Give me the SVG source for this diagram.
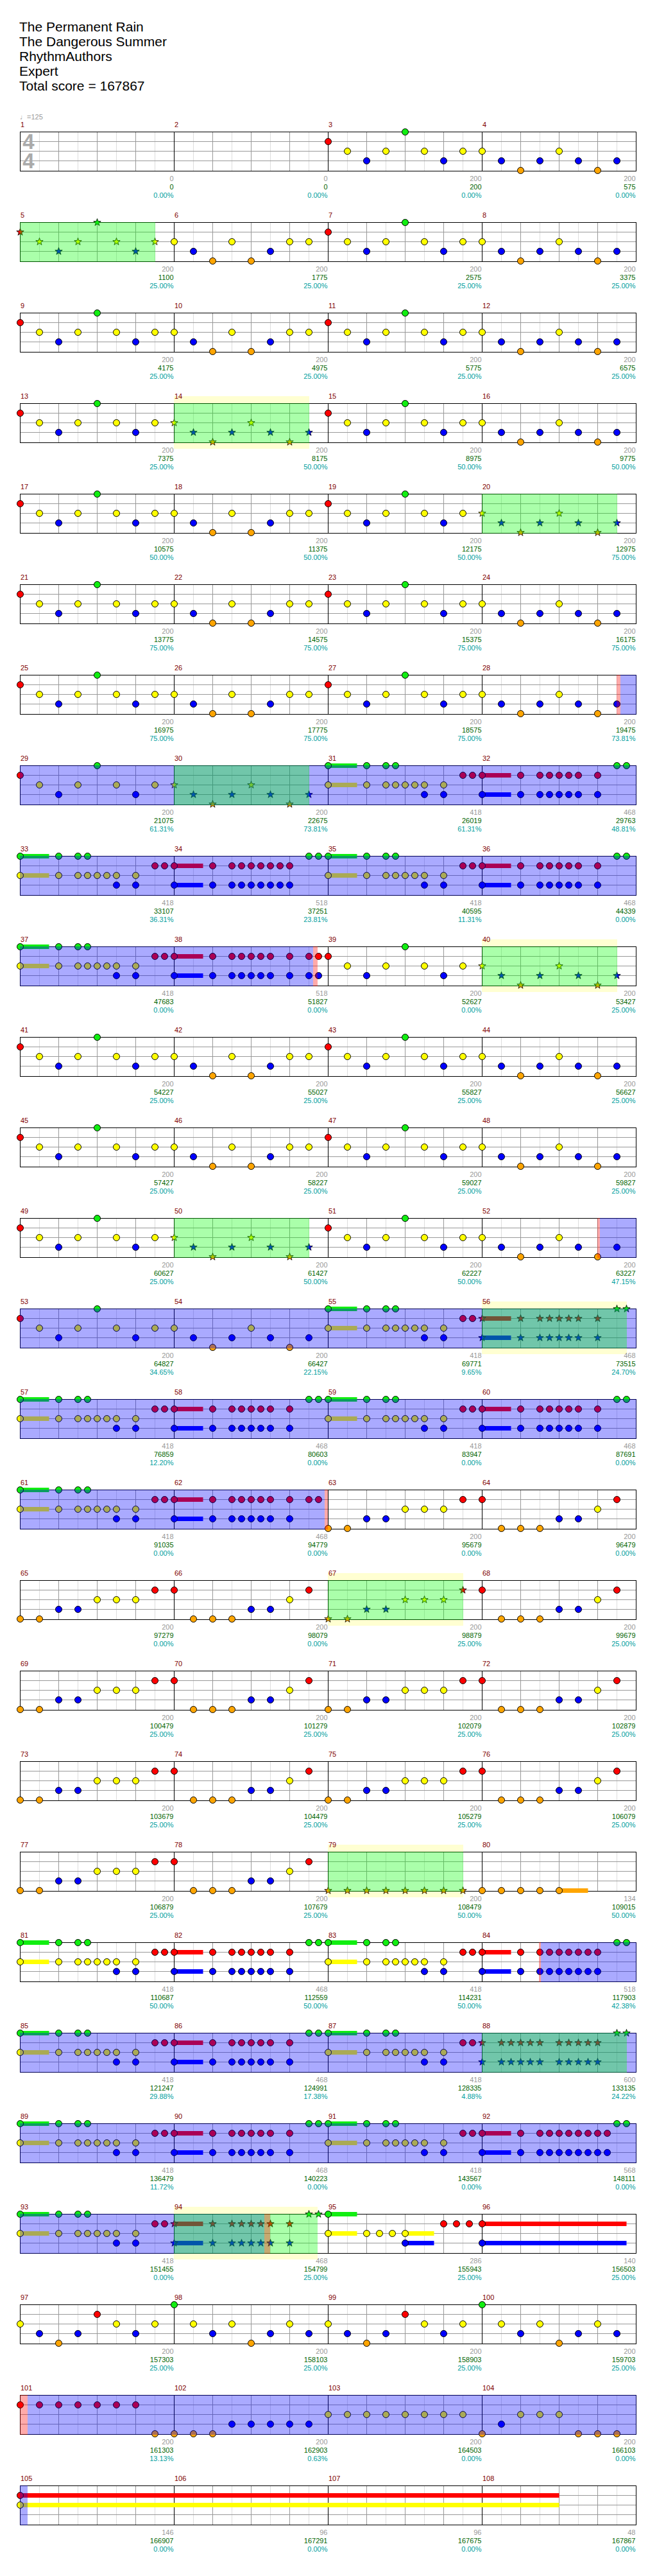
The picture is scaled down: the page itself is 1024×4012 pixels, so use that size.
<svg xmlns="http://www.w3.org/2000/svg" width="1024" height="4012" viewBox="0 0 1024 4012">
<style>
.t{font-family:"Liberation Sans",Arial,sans-serif;font-size:21px;fill:#000}
.sm{font-family:"Liberation Sans",Arial,"DejaVu Sans",sans-serif;font-size:11px}
.n{fill:#800000}
.a,.b,.c{text-anchor:end}
.a{fill:#999}
.b{fill:#006400}
.c{fill:#00a0a0}
.ob{fill:#00f;fill-opacity:.333}
.og{fill:#0f0;fill-opacity:.333}
.or{fill:#f00;fill-opacity:.333}
.hl{fill:#ffffd2}
</style>
<defs>
<circle id="G" r="5" fill="#1e1" stroke="#000"/>
<circle id="R" r="5" fill="#f00" stroke="#000"/>
<circle id="Y" r="5" fill="#ff0" stroke="#000"/>
<circle id="B" r="5" fill="#00f" stroke="#000"/>
<circle id="O" r="5" fill="#ffa500" stroke="#000"/>
<path id="star" d="M0-6L1.41-1.94L5.71-1.85L2.28 0.74L3.53 4.85L0 2.4L-3.53 4.85L-2.28 0.74L-5.71-1.85L-1.41-1.94Z" stroke="#000" stroke-width="0.8"/>
<use id="sG" href="#star" fill="#1e1"/>
<use id="sR" href="#star" fill="#f00"/>
<use id="sY" href="#star" fill="#ff0"/>
<use id="sB" href="#star" fill="#00f"/>
<use id="sO" href="#star" fill="#ffa500"/>
<g id="staff">
<rect x="31" y="0" width="961" height="62" fill="#fff"/>
<path d="M61.5 1V61M121.5 1V61M181.5 1V61M241.5 1V61M301.5 1V61M361.5 1V61M421.5 1V61M481.5 1V61M541.5 1V61M601.5 1V61M661.5 1V61M721.5 1V61M781.5 1V61M841.5 1V61M901.5 1V61M961.5 1V61" stroke="#ddd" fill="none"/>
<path d="M91.5 1V61M151.5 1V61M211.5 1V61M331.5 1V61M391.5 1V61M451.5 1V61M571.5 1V61M631.5 1V61M691.5 1V61M811.5 1V61M871.5 1V61M931.5 1V61M31.5 15.5H991.5M31.5 30.5H991.5M31.5 45.5H991.5" stroke="#999" fill="none"/>
<path d="M271.5 0.5V61.5M511.5 0.5V61.5M751.5 0.5V61.5" stroke="#000" fill="none"/>
<rect x="31.5" y="0.5" width="960" height="61" fill="none" stroke="#000"/>
</g>
<g id="P1"><use href="#R" y="15"/><use href="#Y" x="30" y="30"/><use href="#B" x="60" y="45"/><use href="#Y" x="90" y="30"/><use href="#G" x="120"/><use href="#Y" x="150" y="30"/><use href="#B" x="180" y="45"/><use href="#Y" x="210" y="30"/></g>
<g id="P1s"><use href="#sR" y="15"/><use href="#sY" x="30" y="30"/><use href="#sB" x="60" y="45"/><use href="#sY" x="90" y="30"/><use href="#sG" x="120"/><use href="#sY" x="150" y="30"/><use href="#sB" x="180" y="45"/><use href="#sY" x="210" y="30"/></g>
<g id="P2"><use href="#Y" y="30"/><use href="#B" x="30" y="45"/><use href="#O" x="60" y="60"/><use href="#B" x="90" y="45"/><use href="#Y" x="120" y="30"/><use href="#B" x="150" y="45"/><use href="#O" x="180" y="60"/><use href="#B" x="210" y="45"/></g>
<g id="P2s"><use href="#sY" y="30"/><use href="#sB" x="30" y="45"/><use href="#sO" x="60" y="60"/><use href="#sB" x="90" y="45"/><use href="#sY" x="120" y="30"/><use href="#sB" x="150" y="45"/><use href="#sO" x="180" y="60"/><use href="#sB" x="210" y="45"/></g>
<g id="P3"><use href="#Y" y="30"/><use href="#B" x="30" y="45"/><use href="#O" x="60" y="60"/><use href="#Y" x="90" y="30"/><use href="#O" x="120" y="60"/><use href="#B" x="150" y="45"/><use href="#Y" x="180" y="30"/><use href="#Y" x="210" y="30"/></g>
<g id="P4"><use href="#O" y="60"/><use href="#O" x="30" y="60"/><use href="#B" x="60" y="45"/><use href="#B" x="90" y="45"/><use href="#Y" x="120" y="30"/><use href="#Y" x="150" y="30"/><use href="#Y" x="180" y="30"/><use href="#R" x="210" y="15"/></g>
<g id="P4s"><use href="#sO" y="60"/><use href="#sO" x="30" y="60"/><use href="#sB" x="60" y="45"/><use href="#sB" x="90" y="45"/><use href="#sY" x="120" y="30"/><use href="#sY" x="150" y="30"/><use href="#sY" x="180" y="30"/><use href="#sR" x="210" y="15"/></g>
<g id="P5"><use href="#R" y="15"/><use href="#O" x="30" y="60"/><use href="#O" x="60" y="60"/><use href="#O" x="90" y="60"/><use href="#B" x="120" y="45"/><use href="#B" x="150" y="45"/><use href="#Y" x="180" y="30"/><use href="#R" x="210" y="15"/></g>
<g id="FA"><rect y="-3.5" width="45" height="7" fill="#1e1"/><rect y="26.5" width="45" height="7" fill="#ff0"/><use href="#G"/><use href="#G" x="60"/><use href="#G" x="90"/><use href="#G" x="105"/><use href="#Y" y="30"/><use href="#Y" x="60" y="30"/><use href="#Y" x="90" y="30"/><use href="#Y" x="105" y="30"/><use href="#Y" x="120" y="30"/><use href="#Y" x="135" y="30"/><use href="#Y" x="150" y="30"/><use href="#Y" x="180" y="30"/><use href="#B" x="150" y="45"/><use href="#B" x="180" y="45"/><use href="#R" x="210" y="15"/><use href="#R" x="225" y="15"/></g>
<g id="rb"><use href="#R" y="15"/><use href="#B" y="45"/></g>
<g id="srb"><use href="#sR" y="15"/><use href="#sB" y="45"/></g>
<g id="rbBars"><rect y="11.5" width="45" height="7" fill="#f00"/><rect y="41.5" width="45" height="7" fill="#00f"/></g>
<g id="fbC"><use href="#rb" x="60"/><use href="#rb" x="90"/><use href="#rb" x="105"/><use href="#rb" x="120"/><use href="#rb" x="135"/><use href="#rb" x="150"/><use href="#rb" x="180"/></g>
<g id="FB"><use href="#rbBars"/><use href="#rb"/><use href="#fbC"/><use href="#G" x="210"/><use href="#G" x="225"/></g>
<g id="FB11"><use href="#FB"/><use href="#rb" x="165"/></g>
<g id="FB13"><use href="#FB11"/><use href="#rb" x="195"/></g>
<g id="FB38"><use href="#rbBars"/><use href="#rb"/><use href="#fbC"/><use href="#rb" x="210"/><use href="#rb" x="225"/></g>
<g id="FB62"><use href="#rbBars"/><use href="#rb"/><use href="#fbC"/><use href="#R" x="210" y="15"/><use href="#R" x="225" y="15"/></g>
<g id="FBs"><use href="#rbBars"/><use href="#srb"/><use href="#srb" x="60"/><use href="#srb" x="90"/><use href="#srb" x="105"/><use href="#srb" x="120"/><use href="#srb" x="135"/><use href="#srb" x="150"/><use href="#srb" x="180"/><use href="#sG" x="210"/><use href="#sG" x="225"/></g>
<g id="F88s"><use href="#srb"/><use href="#srb" x="30"/><use href="#srb" x="45"/><use href="#srb" x="60"/><use href="#srb" x="75"/><use href="#srb" x="90"/><use href="#srb" x="120"/><use href="#srb" x="135"/><use href="#srb" x="150"/><use href="#srb" x="165"/><use href="#srb" x="180"/><use href="#sG" x="210"/><use href="#sG" x="225"/></g>
<g id="Os"><use href="#sO" y="60"/><use href="#sO" x="30" y="60"/><use href="#sO" x="60" y="60"/><use href="#sO" x="90" y="60"/><use href="#sO" x="120" y="60"/><use href="#sO" x="150" y="60"/><use href="#sO" x="180" y="60"/><use href="#sO" x="210" y="60"/></g>
<g id="O80"><rect x="120" y="56.5" width="45" height="7" fill="#ffa500"/><use href="#O" y="60"/><use href="#O" x="30" y="60"/><use href="#O" x="60" y="60"/><use href="#O" x="90" y="60"/><use href="#O" x="120" y="60"/></g>
<g id="M95"><rect y="-3.5" width="45" height="7" fill="#1e1"/><rect y="26.5" width="45" height="7" fill="#ff0"/><rect x="120" y="26.5" width="45" height="7" fill="#ff0"/><rect x="120" y="41.5" width="45" height="7" fill="#00f"/><use href="#G"/><use href="#Y" y="30"/><use href="#Y" x="60" y="30"/><use href="#Y" x="80" y="30"/><use href="#Y" x="100" y="30"/><use href="#Y" x="120" y="30"/><use href="#B" x="120" y="45"/><use href="#R" x="180" y="15"/><use href="#R" x="200" y="15"/><use href="#R" x="220" y="15"/></g>
<g id="M96"><rect y="11.5" width="225" height="7" fill="#f00"/><rect y="41.5" width="225" height="7" fill="#00f"/><use href="#rb"/></g>
<g id="M97"><use href="#Y" y="30"/><use href="#B" x="30" y="45"/><use href="#O" x="60" y="60"/><use href="#B" x="90" y="45"/><use href="#R" x="120" y="15"/><use href="#Y" x="150" y="30"/><use href="#B" x="180" y="45"/><use href="#Y" x="210" y="30"/></g>
<g id="M98"><use href="#G"/><use href="#Y" x="30" y="30"/><use href="#B" x="60" y="45"/><use href="#Y" x="90" y="30"/><use href="#O" x="120" y="60"/><use href="#B" x="150" y="45"/><use href="#Y" x="180" y="30"/><use href="#B" x="210" y="45"/></g>
<g id="M101"><use href="#R" y="15"/><use href="#R" x="30" y="15"/><use href="#R" x="60" y="15"/><use href="#R" x="90" y="15"/><use href="#R" x="120" y="15"/><use href="#R" x="150" y="15"/><use href="#R" x="180" y="15"/><use href="#O" x="210" y="60"/></g>
<g id="M102"><use href="#O" y="60"/><use href="#O" x="30" y="60"/><use href="#O" x="60" y="60"/><use href="#B" x="90" y="45"/><use href="#B" x="120" y="45"/><use href="#B" x="150" y="45"/><use href="#B" x="180" y="45"/><use href="#B" x="210" y="45"/></g>
<g id="M103"><use href="#Y" y="30"/><use href="#Y" x="30" y="30"/><use href="#Y" x="60" y="30"/><use href="#Y" x="90" y="30"/><use href="#Y" x="120" y="30"/><use href="#Y" x="150" y="30"/><use href="#Y" x="180" y="30"/><use href="#Y" x="210" y="30"/></g>
<g id="M104"><use href="#O" y="60"/><use href="#B" x="30" y="45"/><use href="#Y" x="60" y="30"/><use href="#Y" x="90" y="30"/><use href="#Y" x="120" y="30"/><use href="#O" x="150" y="60"/><use href="#O" x="180" y="60"/><use href="#O" x="210" y="60"/></g>
<g id="M105"><rect y="11.5" width="840" height="7" fill="#f00"/><rect y="26.5" width="840" height="7" fill="#ff0"/><use href="#R" y="15"/><use href="#Y" y="30"/></g>
</defs>
<rect width="1024" height="4012" fill="#fff"/>
<g id="title" class="t"><text x="30" y="49">The Permanent Rain</text><text x="30" y="72">The Dangerous Summer</text><text x="30" y="95">RhythmAuthors</text><text x="30" y="118">Expert</text><text x="30" y="141">Total score = 167867</text></g>

<g id="row-1" transform="translate(0,205)">
<use href="#staff"/>
<text x="44.5" y="27" text-anchor="middle" font-family="Liberation Sans, Arial, sans-serif" font-weight="bold" font-size="33" fill="#aaa">4</text>
<text x="44.5" y="57" text-anchor="middle" font-family="Liberation Sans, Arial, sans-serif" font-weight="bold" font-size="33" fill="#aaa">4</text>
<use href="#P1" x="511.5" y="0.5"/><use href="#P2" x="751.5" y="0.5"/>
<g class="sm"><text x="31" y="-19" fill="#999">♩=125</text><text class="n" x="32" y="-7">1</text><text class="n" x="272" y="-7">2</text><text class="n" x="512" y="-7">3</text><text class="n" x="752" y="-7">4</text>
<text class="a" x="270.5" y="77">0</text><text class="b" x="270.5" y="90">0</text><text class="c" x="270.5" y="103">0.00%</text>
<text class="a" x="510.5" y="77">0</text><text class="b" x="510.5" y="90">0</text><text class="c" x="510.5" y="103">0.00%</text>
<text class="a" x="750.5" y="77">200</text><text class="b" x="750.5" y="90">200</text><text class="c" x="750.5" y="103">0.00%</text>
<text class="a" x="990.5" y="77">200</text><text class="b" x="990.5" y="90">575</text><text class="c" x="990.5" y="103">0.00%</text></g>
</g>

<g id="row-2" transform="translate(0,346)">
<use href="#staff"/>
<use href="#P1s" x="31.5" y="0.5"/><use href="#P3" x="271.5" y="0.5"/><use href="#P1" x="511.5" y="0.5"/><use href="#P2" x="751.5" y="0.5"/>
<rect class="og" x="31" y="0" width="211" height="62"/>
<g class="sm"><text class="n" x="32" y="-7">5</text><text class="n" x="272" y="-7">6</text><text class="n" x="512" y="-7">7</text><text class="n" x="752" y="-7">8</text>
<text class="a" x="270.5" y="77">200</text><text class="b" x="270.5" y="90">1100</text><text class="c" x="270.5" y="103">25.00%</text>
<text class="a" x="510.5" y="77">200</text><text class="b" x="510.5" y="90">1775</text><text class="c" x="510.5" y="103">25.00%</text>
<text class="a" x="750.5" y="77">200</text><text class="b" x="750.5" y="90">2575</text><text class="c" x="750.5" y="103">25.00%</text>
<text class="a" x="990.5" y="77">200</text><text class="b" x="990.5" y="90">3375</text><text class="c" x="990.5" y="103">25.00%</text></g>
</g>

<g id="row-3" transform="translate(0,487)">
<use href="#staff"/>
<use href="#P1" x="31.5" y="0.5"/><use href="#P3" x="271.5" y="0.5"/><use href="#P1" x="511.5" y="0.5"/><use href="#P2" x="751.5" y="0.5"/>
<g class="sm"><text class="n" x="32" y="-7">9</text><text class="n" x="272" y="-7">10</text><text class="n" x="512" y="-7">11</text><text class="n" x="752" y="-7">12</text>
<text class="a" x="270.5" y="77">200</text><text class="b" x="270.5" y="90">4175</text><text class="c" x="270.5" y="103">25.00%</text>
<text class="a" x="510.5" y="77">200</text><text class="b" x="510.5" y="90">4975</text><text class="c" x="510.5" y="103">25.00%</text>
<text class="a" x="750.5" y="77">200</text><text class="b" x="750.5" y="90">5775</text><text class="c" x="750.5" y="103">25.00%</text>
<text class="a" x="990.5" y="77">200</text><text class="b" x="990.5" y="90">6575</text><text class="c" x="990.5" y="103">25.00%</text></g>
</g>

<g id="row-4" transform="translate(0,628)">
<rect class="hl" x="271" y="-11" width="211" height="82"/>
<use href="#staff"/>
<use href="#P1" x="31.5" y="0.5"/><use href="#P2s" x="271.5" y="0.5"/><use href="#P1" x="511.5" y="0.5"/><use href="#P2" x="751.5" y="0.5"/>
<rect class="og" x="271" y="0" width="211" height="62"/>
<g class="sm"><text class="n" x="32" y="-7">13</text><text class="n" x="272" y="-7">14</text><text class="n" x="512" y="-7">15</text><text class="n" x="752" y="-7">16</text>
<text class="a" x="270.5" y="77">200</text><text class="b" x="270.5" y="90">7375</text><text class="c" x="270.5" y="103">25.00%</text>
<text class="a" x="510.5" y="77">200</text><text class="b" x="510.5" y="90">8175</text><text class="c" x="510.5" y="103">50.00%</text>
<text class="a" x="750.5" y="77">200</text><text class="b" x="750.5" y="90">8975</text><text class="c" x="750.5" y="103">50.00%</text>
<text class="a" x="990.5" y="77">200</text><text class="b" x="990.5" y="90">9775</text><text class="c" x="990.5" y="103">50.00%</text></g>
</g>

<g id="row-5" transform="translate(0,769)">
<use href="#staff"/>
<use href="#P1" x="31.5" y="0.5"/><use href="#P3" x="271.5" y="0.5"/><use href="#P1" x="511.5" y="0.5"/><use href="#P2s" x="751.5" y="0.5"/>
<rect class="og" x="751" y="0" width="211" height="62"/>
<g class="sm"><text class="n" x="32" y="-7">17</text><text class="n" x="272" y="-7">18</text><text class="n" x="512" y="-7">19</text><text class="n" x="752" y="-7">20</text>
<text class="a" x="270.5" y="77">200</text><text class="b" x="270.5" y="90">10575</text><text class="c" x="270.5" y="103">50.00%</text>
<text class="a" x="510.5" y="77">200</text><text class="b" x="510.5" y="90">11375</text><text class="c" x="510.5" y="103">50.00%</text>
<text class="a" x="750.5" y="77">200</text><text class="b" x="750.5" y="90">12175</text><text class="c" x="750.5" y="103">50.00%</text>
<text class="a" x="990.5" y="77">200</text><text class="b" x="990.5" y="90">12975</text><text class="c" x="990.5" y="103">75.00%</text></g>
</g>

<g id="row-6" transform="translate(0,910)">
<use href="#staff"/>
<use href="#P1" x="31.5" y="0.5"/><use href="#P3" x="271.5" y="0.5"/><use href="#P1" x="511.5" y="0.5"/><use href="#P2" x="751.5" y="0.5"/>
<g class="sm"><text class="n" x="32" y="-7">21</text><text class="n" x="272" y="-7">22</text><text class="n" x="512" y="-7">23</text><text class="n" x="752" y="-7">24</text>
<text class="a" x="270.5" y="77">200</text><text class="b" x="270.5" y="90">13775</text><text class="c" x="270.5" y="103">75.00%</text>
<text class="a" x="510.5" y="77">200</text><text class="b" x="510.5" y="90">14575</text><text class="c" x="510.5" y="103">75.00%</text>
<text class="a" x="750.5" y="77">200</text><text class="b" x="750.5" y="90">15375</text><text class="c" x="750.5" y="103">75.00%</text>
<text class="a" x="990.5" y="77">200</text><text class="b" x="990.5" y="90">16175</text><text class="c" x="990.5" y="103">75.00%</text></g>
</g>

<g id="row-7" transform="translate(0,1051)">
<use href="#staff"/>
<use href="#P1" x="31.5" y="0.5"/><use href="#P3" x="271.5" y="0.5"/><use href="#P1" x="511.5" y="0.5"/><use href="#P2" x="751.5" y="0.5"/>
<rect class="or" x="961" y="0" width="6" height="62"/><rect class="ob" x="967" y="0" width="25" height="62"/>
<g class="sm"><text class="n" x="32" y="-7">25</text><text class="n" x="272" y="-7">26</text><text class="n" x="512" y="-7">27</text><text class="n" x="752" y="-7">28</text>
<text class="a" x="270.5" y="77">200</text><text class="b" x="270.5" y="90">16975</text><text class="c" x="270.5" y="103">75.00%</text>
<text class="a" x="510.5" y="77">200</text><text class="b" x="510.5" y="90">17775</text><text class="c" x="510.5" y="103">75.00%</text>
<text class="a" x="750.5" y="77">200</text><text class="b" x="750.5" y="90">18575</text><text class="c" x="750.5" y="103">75.00%</text>
<text class="a" x="990.5" y="77">200</text><text class="b" x="990.5" y="90">19475</text><text class="c" x="990.5" y="103">73.81%</text></g>
</g>

<g id="row-8" transform="translate(0,1192)">
<use href="#staff"/>
<use href="#P1" x="31.5" y="0.5"/><use href="#P2s" x="271.5" y="0.5"/><use href="#FA" x="511.5" y="0.5"/><use href="#FB" x="751.5" y="0.5"/>
<rect class="ob" x="31" y="0" width="961" height="62"/><rect class="og" x="271" y="0" width="211" height="62"/>
<g class="sm"><text class="n" x="32" y="-7">29</text><text class="n" x="272" y="-7">30</text><text class="n" x="512" y="-7">31</text><text class="n" x="752" y="-7">32</text>
<text class="a" x="270.5" y="77">200</text><text class="b" x="270.5" y="90">21075</text><text class="c" x="270.5" y="103">61.31%</text>
<text class="a" x="510.5" y="77">200</text><text class="b" x="510.5" y="90">22675</text><text class="c" x="510.5" y="103">73.81%</text>
<text class="a" x="750.5" y="77">418</text><text class="b" x="750.5" y="90">26019</text><text class="c" x="750.5" y="103">61.31%</text>
<text class="a" x="990.5" y="77">468</text><text class="b" x="990.5" y="90">29763</text><text class="c" x="990.5" y="103">48.81%</text></g>
</g>

<g id="row-9" transform="translate(0,1333)">
<use href="#staff"/>
<use href="#FA" x="31.5" y="0.5"/><use href="#FB11" x="271.5" y="0.5"/><use href="#FA" x="511.5" y="0.5"/><use href="#FB" x="751.5" y="0.5"/>
<rect class="ob" x="31" y="0" width="961" height="62"/>
<g class="sm"><text class="n" x="32" y="-7">33</text><text class="n" x="272" y="-7">34</text><text class="n" x="512" y="-7">35</text><text class="n" x="752" y="-7">36</text>
<text class="a" x="270.5" y="77">418</text><text class="b" x="270.5" y="90">33107</text><text class="c" x="270.5" y="103">36.31%</text>
<text class="a" x="510.5" y="77">518</text><text class="b" x="510.5" y="90">37251</text><text class="c" x="510.5" y="103">23.81%</text>
<text class="a" x="750.5" y="77">418</text><text class="b" x="750.5" y="90">40595</text><text class="c" x="750.5" y="103">11.31%</text>
<text class="a" x="990.5" y="77">468</text><text class="b" x="990.5" y="90">44339</text><text class="c" x="990.5" y="103">0.00%</text></g>
</g>

<g id="row-10" transform="translate(0,1474)">
<rect class="hl" x="751" y="-11" width="211" height="82"/>
<use href="#staff"/>
<use href="#FA" x="31.5" y="0.5"/><use href="#FB38" x="271.5" y="0.5"/><use href="#P1" x="511.5" y="0.5"/><use href="#P2s" x="751.5" y="0.5"/>
<rect class="ob" x="31" y="0" width="457" height="62"/><rect class="or" x="488" y="0" width="7" height="62"/><rect class="og" x="751" y="0" width="211" height="62"/>
<g class="sm"><text class="n" x="32" y="-7">37</text><text class="n" x="272" y="-7">38</text><text class="n" x="512" y="-7">39</text><text class="n" x="752" y="-7">40</text>
<text class="a" x="270.5" y="77">418</text><text class="b" x="270.5" y="90">47683</text><text class="c" x="270.5" y="103">0.00%</text>
<text class="a" x="510.5" y="77">518</text><text class="b" x="510.5" y="90">51827</text><text class="c" x="510.5" y="103">0.00%</text>
<text class="a" x="750.5" y="77">200</text><text class="b" x="750.5" y="90">52627</text><text class="c" x="750.5" y="103">0.00%</text>
<text class="a" x="990.5" y="77">200</text><text class="b" x="990.5" y="90">53427</text><text class="c" x="990.5" y="103">25.00%</text></g>
</g>

<g id="row-11" transform="translate(0,1615)">
<use href="#staff"/>
<use href="#P1" x="31.5" y="0.5"/><use href="#P3" x="271.5" y="0.5"/><use href="#P1" x="511.5" y="0.5"/><use href="#P2" x="751.5" y="0.5"/>
<g class="sm"><text class="n" x="32" y="-7">41</text><text class="n" x="272" y="-7">42</text><text class="n" x="512" y="-7">43</text><text class="n" x="752" y="-7">44</text>
<text class="a" x="270.5" y="77">200</text><text class="b" x="270.5" y="90">54227</text><text class="c" x="270.5" y="103">25.00%</text>
<text class="a" x="510.5" y="77">200</text><text class="b" x="510.5" y="90">55027</text><text class="c" x="510.5" y="103">25.00%</text>
<text class="a" x="750.5" y="77">200</text><text class="b" x="750.5" y="90">55827</text><text class="c" x="750.5" y="103">25.00%</text>
<text class="a" x="990.5" y="77">200</text><text class="b" x="990.5" y="90">56627</text><text class="c" x="990.5" y="103">25.00%</text></g>
</g>

<g id="row-12" transform="translate(0,1756)">
<use href="#staff"/>
<use href="#P1" x="31.5" y="0.5"/><use href="#P3" x="271.5" y="0.5"/><use href="#P1" x="511.5" y="0.5"/><use href="#P2" x="751.5" y="0.5"/>
<g class="sm"><text class="n" x="32" y="-7">45</text><text class="n" x="272" y="-7">46</text><text class="n" x="512" y="-7">47</text><text class="n" x="752" y="-7">48</text>
<text class="a" x="270.5" y="77">200</text><text class="b" x="270.5" y="90">57427</text><text class="c" x="270.5" y="103">25.00%</text>
<text class="a" x="510.5" y="77">200</text><text class="b" x="510.5" y="90">58227</text><text class="c" x="510.5" y="103">25.00%</text>
<text class="a" x="750.5" y="77">200</text><text class="b" x="750.5" y="90">59027</text><text class="c" x="750.5" y="103">25.00%</text>
<text class="a" x="990.5" y="77">200</text><text class="b" x="990.5" y="90">59827</text><text class="c" x="990.5" y="103">25.00%</text></g>
</g>

<g id="row-13" transform="translate(0,1897)">
<use href="#staff"/>
<use href="#P1" x="31.5" y="0.5"/><use href="#P2s" x="271.5" y="0.5"/><use href="#P1" x="511.5" y="0.5"/><use href="#P2" x="751.5" y="0.5"/>
<rect class="og" x="271" y="0" width="211" height="62"/><rect class="or" x="931" y="0" width="4" height="62"/><rect class="ob" x="935" y="0" width="57" height="62"/>
<g class="sm"><text class="n" x="32" y="-7">49</text><text class="n" x="272" y="-7">50</text><text class="n" x="512" y="-7">51</text><text class="n" x="752" y="-7">52</text>
<text class="a" x="270.5" y="77">200</text><text class="b" x="270.5" y="90">60627</text><text class="c" x="270.5" y="103">25.00%</text>
<text class="a" x="510.5" y="77">200</text><text class="b" x="510.5" y="90">61427</text><text class="c" x="510.5" y="103">50.00%</text>
<text class="a" x="750.5" y="77">200</text><text class="b" x="750.5" y="90">62227</text><text class="c" x="750.5" y="103">50.00%</text>
<text class="a" x="990.5" y="77">200</text><text class="b" x="990.5" y="90">63227</text><text class="c" x="990.5" y="103">47.15%</text></g>
</g>

<g id="row-14" transform="translate(0,2038)">
<rect class="hl" x="751" y="-11" width="226" height="82"/>
<use href="#staff"/>
<use href="#P1" x="31.5" y="0.5"/><use href="#P2" x="271.5" y="0.5"/><use href="#FA" x="511.5" y="0.5"/><use href="#FBs" x="751.5" y="0.5"/>
<rect class="ob" x="31" y="0" width="961" height="62"/><rect class="og" x="751" y="0" width="226" height="62"/>
<g class="sm"><text class="n" x="32" y="-7">53</text><text class="n" x="272" y="-7">54</text><text class="n" x="512" y="-7">55</text><text class="n" x="752" y="-7">56</text>
<text class="a" x="270.5" y="77">200</text><text class="b" x="270.5" y="90">64827</text><text class="c" x="270.5" y="103">34.65%</text>
<text class="a" x="510.5" y="77">200</text><text class="b" x="510.5" y="90">66427</text><text class="c" x="510.5" y="103">22.15%</text>
<text class="a" x="750.5" y="77">418</text><text class="b" x="750.5" y="90">69771</text><text class="c" x="750.5" y="103">9.65%</text>
<text class="a" x="990.5" y="77">468</text><text class="b" x="990.5" y="90">73515</text><text class="c" x="990.5" y="103">24.70%</text></g>
</g>

<g id="row-15" transform="translate(0,2179)">
<use href="#staff"/>
<use href="#FA" x="31.5" y="0.5"/><use href="#FB" x="271.5" y="0.5"/><use href="#FA" x="511.5" y="0.5"/><use href="#FB" x="751.5" y="0.5"/>
<rect class="ob" x="31" y="0" width="961" height="62"/>
<g class="sm"><text class="n" x="32" y="-7">57</text><text class="n" x="272" y="-7">58</text><text class="n" x="512" y="-7">59</text><text class="n" x="752" y="-7">60</text>
<text class="a" x="270.5" y="77">418</text><text class="b" x="270.5" y="90">76859</text><text class="c" x="270.5" y="103">12.20%</text>
<text class="a" x="510.5" y="77">468</text><text class="b" x="510.5" y="90">80603</text><text class="c" x="510.5" y="103">0.00%</text>
<text class="a" x="750.5" y="77">418</text><text class="b" x="750.5" y="90">83947</text><text class="c" x="750.5" y="103">0.00%</text>
<text class="a" x="990.5" y="77">468</text><text class="b" x="990.5" y="90">87691</text><text class="c" x="990.5" y="103">0.00%</text></g>
</g>

<g id="row-16" transform="translate(0,2320)">
<use href="#staff"/>
<use href="#FA" x="31.5" y="0.5"/><use href="#FB62" x="271.5" y="0.5"/><use href="#P4" x="511.5" y="0.5"/><use href="#P5" x="751.5" y="0.5"/>
<rect class="ob" x="31" y="0" width="475" height="62"/><rect class="or" x="506" y="0" width="5" height="62"/>
<g class="sm"><text class="n" x="32" y="-7">61</text><text class="n" x="272" y="-7">62</text><text class="n" x="512" y="-7">63</text><text class="n" x="752" y="-7">64</text>
<text class="a" x="270.5" y="77">418</text><text class="b" x="270.5" y="90">91035</text><text class="c" x="270.5" y="103">0.00%</text>
<text class="a" x="510.5" y="77">468</text><text class="b" x="510.5" y="90">94779</text><text class="c" x="510.5" y="103">0.00%</text>
<text class="a" x="750.5" y="77">200</text><text class="b" x="750.5" y="90">95679</text><text class="c" x="750.5" y="103">0.00%</text>
<text class="a" x="990.5" y="77">200</text><text class="b" x="990.5" y="90">96479</text><text class="c" x="990.5" y="103">0.00%</text></g>
</g>

<g id="row-17" transform="translate(0,2461)">
<rect class="hl" x="511" y="-11" width="211" height="82"/>
<use href="#staff"/>
<use href="#P4" x="31.5" y="0.5"/><use href="#P5" x="271.5" y="0.5"/><use href="#P4s" x="511.5" y="0.5"/><use href="#P5" x="751.5" y="0.5"/>
<rect class="og" x="511" y="0" width="211" height="62"/>
<g class="sm"><text class="n" x="32" y="-7">65</text><text class="n" x="272" y="-7">66</text><text class="n" x="512" y="-7">67</text><text class="n" x="752" y="-7">68</text>
<text class="a" x="270.5" y="77">200</text><text class="b" x="270.5" y="90">97279</text><text class="c" x="270.5" y="103">0.00%</text>
<text class="a" x="510.5" y="77">200</text><text class="b" x="510.5" y="90">98079</text><text class="c" x="510.5" y="103">0.00%</text>
<text class="a" x="750.5" y="77">200</text><text class="b" x="750.5" y="90">98879</text><text class="c" x="750.5" y="103">25.00%</text>
<text class="a" x="990.5" y="77">200</text><text class="b" x="990.5" y="90">99679</text><text class="c" x="990.5" y="103">25.00%</text></g>
</g>

<g id="row-18" transform="translate(0,2602)">
<use href="#staff"/>
<use href="#P4" x="31.5" y="0.5"/><use href="#P5" x="271.5" y="0.5"/><use href="#P4" x="511.5" y="0.5"/><use href="#P5" x="751.5" y="0.5"/>
<g class="sm"><text class="n" x="32" y="-7">69</text><text class="n" x="272" y="-7">70</text><text class="n" x="512" y="-7">71</text><text class="n" x="752" y="-7">72</text>
<text class="a" x="270.5" y="77">200</text><text class="b" x="270.5" y="90">100479</text><text class="c" x="270.5" y="103">25.00%</text>
<text class="a" x="510.5" y="77">200</text><text class="b" x="510.5" y="90">101279</text><text class="c" x="510.5" y="103">25.00%</text>
<text class="a" x="750.5" y="77">200</text><text class="b" x="750.5" y="90">102079</text><text class="c" x="750.5" y="103">25.00%</text>
<text class="a" x="990.5" y="77">200</text><text class="b" x="990.5" y="90">102879</text><text class="c" x="990.5" y="103">25.00%</text></g>
</g>

<g id="row-19" transform="translate(0,2743)">
<use href="#staff"/>
<use href="#P4" x="31.5" y="0.5"/><use href="#P5" x="271.5" y="0.5"/><use href="#P4" x="511.5" y="0.5"/><use href="#P5" x="751.5" y="0.5"/>
<g class="sm"><text class="n" x="32" y="-7">73</text><text class="n" x="272" y="-7">74</text><text class="n" x="512" y="-7">75</text><text class="n" x="752" y="-7">76</text>
<text class="a" x="270.5" y="77">200</text><text class="b" x="270.5" y="90">103679</text><text class="c" x="270.5" y="103">25.00%</text>
<text class="a" x="510.5" y="77">200</text><text class="b" x="510.5" y="90">104479</text><text class="c" x="510.5" y="103">25.00%</text>
<text class="a" x="750.5" y="77">200</text><text class="b" x="750.5" y="90">105279</text><text class="c" x="750.5" y="103">25.00%</text>
<text class="a" x="990.5" y="77">200</text><text class="b" x="990.5" y="90">106079</text><text class="c" x="990.5" y="103">25.00%</text></g>
</g>

<g id="row-20" transform="translate(0,2884)">
<rect class="hl" x="511" y="-11" width="211" height="82"/>
<use href="#staff"/>
<use href="#P4" x="31.5" y="0.5"/><use href="#P5" x="271.5" y="0.5"/><use href="#Os" x="511.5" y="0.5"/><use href="#O80" x="751.5" y="0.5"/>
<rect class="og" x="511" y="0" width="211" height="62"/>
<g class="sm"><text class="n" x="32" y="-7">77</text><text class="n" x="272" y="-7">78</text><text class="n" x="512" y="-7">79</text><text class="n" x="752" y="-7">80</text>
<text class="a" x="270.5" y="77">200</text><text class="b" x="270.5" y="90">106879</text><text class="c" x="270.5" y="103">25.00%</text>
<text class="a" x="510.5" y="77">200</text><text class="b" x="510.5" y="90">107679</text><text class="c" x="510.5" y="103">25.00%</text>
<text class="a" x="750.5" y="77">200</text><text class="b" x="750.5" y="90">108479</text><text class="c" x="750.5" y="103">50.00%</text>
<text class="a" x="990.5" y="77">134</text><text class="b" x="990.5" y="90">109015</text><text class="c" x="990.5" y="103">50.00%</text></g>
</g>

<g id="row-21" transform="translate(0,3025)">
<use href="#staff"/>
<use href="#FA" x="31.5" y="0.5"/><use href="#FB" x="271.5" y="0.5"/><use href="#FA" x="511.5" y="0.5"/><use href="#FB11" x="751.5" y="0.5"/>
<rect class="or" x="840" y="0" width="3" height="62"/><rect class="ob" x="843" y="0" width="149" height="62"/>
<g class="sm"><text class="n" x="32" y="-7">81</text><text class="n" x="272" y="-7">82</text><text class="n" x="512" y="-7">83</text><text class="n" x="752" y="-7">84</text>
<text class="a" x="270.5" y="77">418</text><text class="b" x="270.5" y="90">110687</text><text class="c" x="270.5" y="103">50.00%</text>
<text class="a" x="510.5" y="77">468</text><text class="b" x="510.5" y="90">112559</text><text class="c" x="510.5" y="103">50.00%</text>
<text class="a" x="750.5" y="77">418</text><text class="b" x="750.5" y="90">114231</text><text class="c" x="750.5" y="103">50.00%</text>
<text class="a" x="990.5" y="77">518</text><text class="b" x="990.5" y="90">117903</text><text class="c" x="990.5" y="103">42.38%</text></g>
</g>

<g id="row-22" transform="translate(0,3166)">
<use href="#staff"/>
<use href="#FA" x="31.5" y="0.5"/><use href="#FB" x="271.5" y="0.5"/><use href="#FA" x="511.5" y="0.5"/><use href="#F88s" x="751.5" y="0.5"/>
<rect class="ob" x="31" y="0" width="961" height="62"/><rect class="og" x="751" y="0" width="226" height="62"/>
<g class="sm"><text class="n" x="32" y="-7">85</text><text class="n" x="272" y="-7">86</text><text class="n" x="512" y="-7">87</text><text class="n" x="752" y="-7">88</text>
<text class="a" x="270.5" y="77">418</text><text class="b" x="270.5" y="90">121247</text><text class="c" x="270.5" y="103">29.88%</text>
<text class="a" x="510.5" y="77">468</text><text class="b" x="510.5" y="90">124991</text><text class="c" x="510.5" y="103">17.38%</text>
<text class="a" x="750.5" y="77">418</text><text class="b" x="750.5" y="90">128335</text><text class="c" x="750.5" y="103">4.88%</text>
<text class="a" x="990.5" y="77">600</text><text class="b" x="990.5" y="90">133135</text><text class="c" x="990.5" y="103">24.22%</text></g>
</g>

<g id="row-23" transform="translate(0,3307)">
<use href="#staff"/>
<use href="#FA" x="31.5" y="0.5"/><use href="#FB" x="271.5" y="0.5"/><use href="#FA" x="511.5" y="0.5"/><use href="#FB13" x="751.5" y="0.5"/>
<rect class="ob" x="31" y="0" width="961" height="62"/>
<g class="sm"><text class="n" x="32" y="-7">89</text><text class="n" x="272" y="-7">90</text><text class="n" x="512" y="-7">91</text><text class="n" x="752" y="-7">92</text>
<text class="a" x="270.5" y="77">418</text><text class="b" x="270.5" y="90">136479</text><text class="c" x="270.5" y="103">11.72%</text>
<text class="a" x="510.5" y="77">468</text><text class="b" x="510.5" y="90">140223</text><text class="c" x="510.5" y="103">0.00%</text>
<text class="a" x="750.5" y="77">418</text><text class="b" x="750.5" y="90">143567</text><text class="c" x="750.5" y="103">0.00%</text>
<text class="a" x="990.5" y="77">568</text><text class="b" x="990.5" y="90">148111</text><text class="c" x="990.5" y="103">0.00%</text></g>
</g>

<g id="row-24" transform="translate(0,3448)">
<rect class="hl" x="271" y="-11" width="224" height="82"/>
<use href="#staff"/>
<use href="#FA" x="31.5" y="0.5"/><use href="#FBs" x="271.5" y="0.5"/><use href="#M95" x="511.5" y="0.5"/><use href="#M96" x="751.5" y="0.5"/>
<rect class="ob" x="31" y="0" width="381" height="62"/><rect class="og" x="271" y="0" width="224" height="62"/><rect class="or" x="412" y="0" width="9" height="62"/>
<g class="sm"><text class="n" x="32" y="-7">93</text><text class="n" x="272" y="-7">94</text><text class="n" x="512" y="-7">95</text><text class="n" x="752" y="-7">96</text>
<text class="a" x="270.5" y="77">418</text><text class="b" x="270.5" y="90">151455</text><text class="c" x="270.5" y="103">0.00%</text>
<text class="a" x="510.5" y="77">468</text><text class="b" x="510.5" y="90">154799</text><text class="c" x="510.5" y="103">25.00%</text>
<text class="a" x="750.5" y="77">286</text><text class="b" x="750.5" y="90">155943</text><text class="c" x="750.5" y="103">25.00%</text>
<text class="a" x="990.5" y="77">140</text><text class="b" x="990.5" y="90">156503</text><text class="c" x="990.5" y="103">25.00%</text></g>
</g>

<g id="row-25" transform="translate(0,3589)">
<use href="#staff"/>
<use href="#M97" x="31.5" y="0.5"/><use href="#M98" x="271.5" y="0.5"/><use href="#M97" x="511.5" y="0.5"/><use href="#M98" x="751.5" y="0.5"/>
<g class="sm"><text class="n" x="32" y="-7">97</text><text class="n" x="272" y="-7">98</text><text class="n" x="512" y="-7">99</text><text class="n" x="752" y="-7">100</text>
<text class="a" x="270.5" y="77">200</text><text class="b" x="270.5" y="90">157303</text><text class="c" x="270.5" y="103">25.00%</text>
<text class="a" x="510.5" y="77">200</text><text class="b" x="510.5" y="90">158103</text><text class="c" x="510.5" y="103">25.00%</text>
<text class="a" x="750.5" y="77">200</text><text class="b" x="750.5" y="90">158903</text><text class="c" x="750.5" y="103">25.00%</text>
<text class="a" x="990.5" y="77">200</text><text class="b" x="990.5" y="90">159703</text><text class="c" x="990.5" y="103">25.00%</text></g>
</g>

<g id="row-26" transform="translate(0,3730)">
<use href="#staff"/>
<use href="#M101" x="31.5" y="0.5"/><use href="#M102" x="271.5" y="0.5"/><use href="#M103" x="511.5" y="0.5"/><use href="#M104" x="751.5" y="0.5"/>
<rect class="or" x="31" y="0" width="12" height="62"/><rect class="ob" x="43" y="0" width="949" height="62"/>
<g class="sm"><text class="n" x="32" y="-7">101</text><text class="n" x="272" y="-7">102</text><text class="n" x="512" y="-7">103</text><text class="n" x="752" y="-7">104</text>
<text class="a" x="270.5" y="77">200</text><text class="b" x="270.5" y="90">161303</text><text class="c" x="270.5" y="103">13.13%</text>
<text class="a" x="510.5" y="77">200</text><text class="b" x="510.5" y="90">162903</text><text class="c" x="510.5" y="103">0.63%</text>
<text class="a" x="750.5" y="77">200</text><text class="b" x="750.5" y="90">164503</text><text class="c" x="750.5" y="103">0.00%</text>
<text class="a" x="990.5" y="77">200</text><text class="b" x="990.5" y="90">166103</text><text class="c" x="990.5" y="103">0.00%</text></g>
</g>

<g id="row-27" transform="translate(0,3871)">
<use href="#staff"/>
<use href="#M105" x="31.5" y="0.5"/>
<rect class="ob" x="31" y="0" width="12" height="62"/>
<g class="sm"><text class="n" x="32" y="-7">105</text><text class="n" x="272" y="-7">106</text><text class="n" x="512" y="-7">107</text><text class="n" x="752" y="-7">108</text>
<text class="a" x="270.5" y="77">146</text><text class="b" x="270.5" y="90">166907</text><text class="c" x="270.5" y="103">0.00%</text>
<text class="a" x="510.5" y="77">96</text><text class="b" x="510.5" y="90">167291</text><text class="c" x="510.5" y="103">0.00%</text>
<text class="a" x="750.5" y="77">96</text><text class="b" x="750.5" y="90">167675</text><text class="c" x="750.5" y="103">0.00%</text>
<text class="a" x="990.5" y="77">48</text><text class="b" x="990.5" y="90">167867</text><text class="c" x="990.5" y="103">0.00%</text></g>
</g>
</svg>
